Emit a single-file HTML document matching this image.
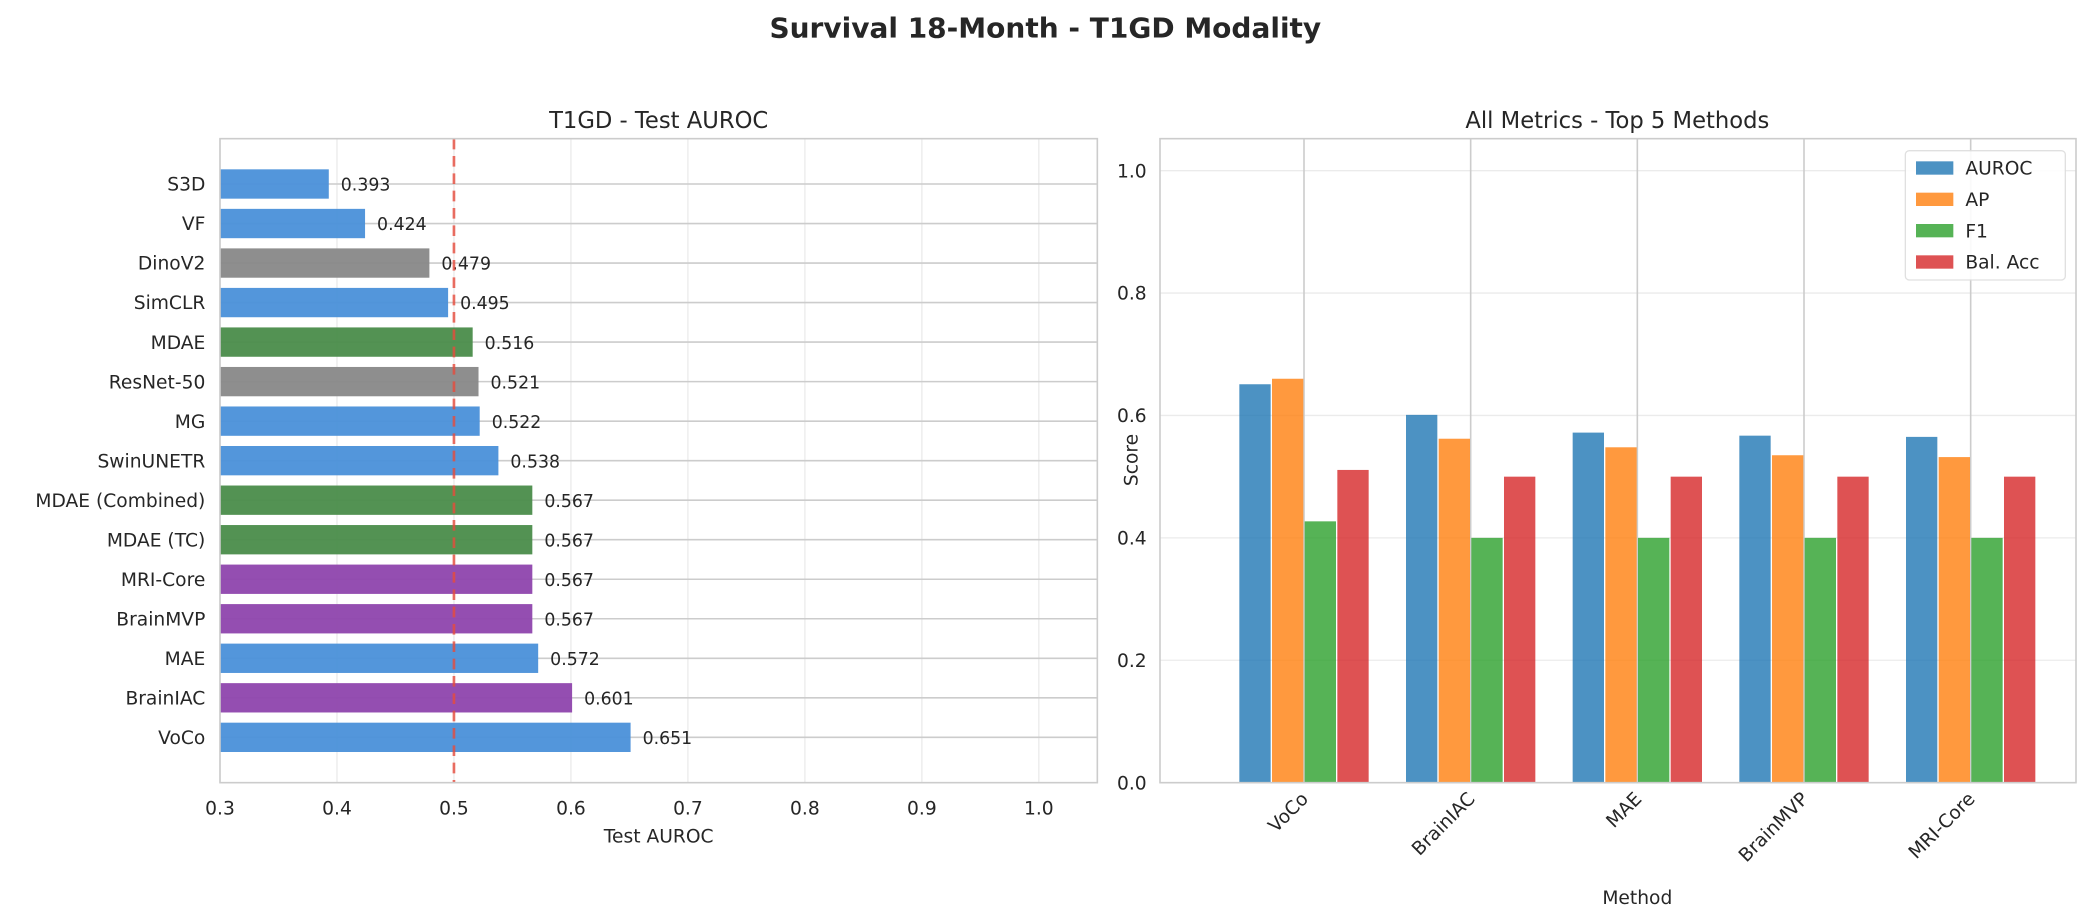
<!DOCTYPE html>
<html><head><meta charset="utf-8"><style>
html,body{margin:0;padding:0;background:#fff;width:2084px;height:923px;overflow:hidden;font-family:"Liberation Sans","DejaVu Sans",sans-serif;}
svg{display:block;width:2084px;height:923px;}
svg text{font-family:"DejaVu Sans","Liberation Sans",sans-serif;fill:#262626;}
</style></head><body>
<svg id="chart" width="2084" height="923" viewBox="0 0 1563 692.25" preserveAspectRatio="none">
<text x="784" y="28" text-anchor="middle" font-size="21" font-weight="bold">Survival 18-Month - T1GD Modality</text>
<g id="left"></g>
<g id="right"></g>
</svg>
<script>
const methods=["S3D","VF","DinoV2","SimCLR","MDAE","ResNet-50","MG","SwinUNETR","MDAE (Combined)","MDAE (TC)","MRI-Core","BrainMVP","MAE","BrainIAC","VoCo"];
const auroc=[0.393,0.424,0.479,0.495,0.516,0.521,0.522,0.538,0.567,0.567,0.567,0.567,0.572,0.601,0.651];
const groups=["blue","blue","gray","blue","green","gray","blue","blue","green","green","purple","purple","blue","purple","blue"];
const xTicks=[0.3,0.4,0.5,0.6,0.7,0.8,0.9,1.0];
const topMethods=["VoCo","BrainIAC","MAE","BrainMVP","MRI-Core"];
const metricNames=["AUROC","AP","F1","Bal. Acc"];
const sAUROC=[0.651,0.601,0.572,0.567,0.565];
const sAP=[0.660,0.562,0.548,0.535,0.532];
const sF1=[0.427,0.400,0.400,0.400,0.400];
const sBal=[0.511,0.500,0.500,0.500,0.500];
const yTicks=[0.0,0.2,0.4,0.6,0.8,1.0];

const NS="http://www.w3.org/2000/svg";
function mk(p,t,a,txt){const e=document.createElementNS(NS,t);for(const k in a)e.setAttribute(k,a[k]);if(txt!==undefined)e.textContent=txt;p.appendChild(e);return e;}
const colMap={blue:"#4a90d9",gray:"#888888",green:"#4a8c4a",purple:"#8e44ad"};

// LEFT
const L=document.getElementById('left');
const lx0=165,lx1=823,ly0=104,ly1=587;
const xs=v=>lx0+(v-0.3)/(0.75)*(lx1-lx0);
const ys=i=>138+i*(553-138)/(methods.length-1);
mk(L,'text',{x:494,y:96,'text-anchor':'middle','font-size':17},'T1GD - Test AUROC');
xTicks.forEach(t=>{
 const g=mk(L,'line',{x1:xs(t),x2:xs(t),y1:ly0,y2:ly1,stroke:'#ebebeb','stroke-width':1});
 
 const tx=mk(L,'text',{x:xs(t),y:611,'text-anchor':'middle','font-size':14},t.toFixed(1));
 
});
methods.forEach((m,i)=>{
 const y=ys(i);
 const gl=mk(L,'line',{x1:lx0,x2:lx1,y1:y,y2:y,stroke:'#cccccc','stroke-width':1.2});
 
 const b=mk(L,'rect',{x:lx0,y:y-11,width:xs(auroc[i])-lx0,height:22,fill:colMap[groups[i]],opacity:0.95});
 
 
 const v=mk(L,'text',{x:xs(auroc[i])+9,y:y+5,'font-size':13},auroc[i].toFixed(3));
 
 const lb=mk(L,'text',{x:154,y:y+5,'text-anchor':'end','font-size':14},m);
 
});
const rl=mk(L,'line',{x1:xs(0.5),x2:xs(0.5),y1:ly0,y2:ly1,stroke:'#e74c3c','stroke-width':2,'stroke-dasharray':'8,5',opacity:0.8});

mk(L,'rect',{x:lx0,y:ly0,width:lx1-lx0,height:ly1-ly0,fill:'none',stroke:'#cccccc','stroke-width':1.2});
mk(L,'text',{x:494,y:632,'text-anchor':'middle','font-size':14},'Test AUROC');

// RIGHT
const R=document.getElementById('right');
const rx0=870,rx1=1557,ry0=104,ry1=587;
const yv=v=>ry1-v*459;
const cx=i=>978+i*125;
const series=[sAUROC,sAP,sF1,sBal];
const sc=["#1f77b4","#ff7f0e","#2ca02c","#d62728"];
mk(R,'text',{x:1213,y:96,'text-anchor':'middle','font-size':17},'All Metrics - Top 5 Methods');
yTicks.forEach(t=>{
 const g=mk(R,'line',{x1:rx0,x2:rx1,y1:yv(t),y2:yv(t),stroke:'#ebebeb','stroke-width':1});
 
 const tx=mk(R,'text',{x:860,y:yv(t)+5,'text-anchor':'end','font-size':14},t.toFixed(1));
 
});
topMethods.forEach((m,i)=>{
 const g=mk(R,'line',{x1:cx(i),x2:cx(i),y1:ry0,y2:ry1,stroke:'#cccccc','stroke-width':1.2});
 
});
topMethods.forEach((m,i)=>{
 series.forEach((s,j)=>{
  const w=24.5,x=cx(i)-49+j*w;
  const b=mk(R,'rect',{x:x+0.5,y:yv(s[i]),width:w-1,height:ry1-yv(s[i]),fill:sc[j],opacity:0.8});
  
  
 });
 const t=mk(R,'text',{x:cx(i)+4,y:600,'text-anchor':'end','font-size':14,transform:`rotate(-45 ${cx(i)+4} 600)`},m);
 
});
mk(R,'rect',{x:rx0,y:ry0,width:rx1-rx0,height:ry1-ry0,fill:'none',stroke:'#cccccc','stroke-width':1.2});
mk(R,'text',{x:1228,y:678,'text-anchor':'middle','font-size':14},'Method');
mk(R,'text',{x:853,y:345,'text-anchor':'middle','font-size':14,transform:'rotate(-90 853 345)'},'Score');
const lg=mk(R,'g',{});

mk(lg,'rect',{x:1429,y:113,width:120,height:97,fill:'#fff',stroke:'#dddddd',rx:3,opacity:0.9});
metricNames.forEach((n,j)=>{
 const y=126+j*23.5;
 const e=mk(lg,'g',{});
 
 mk(e,'rect',{x:1437,y:y-5,width:28,height:10,fill:sc[j],opacity:0.8});
 mk(e,'text',{x:1474,y:y+5,'font-size':14},n);
});
</script>
</body></html>
